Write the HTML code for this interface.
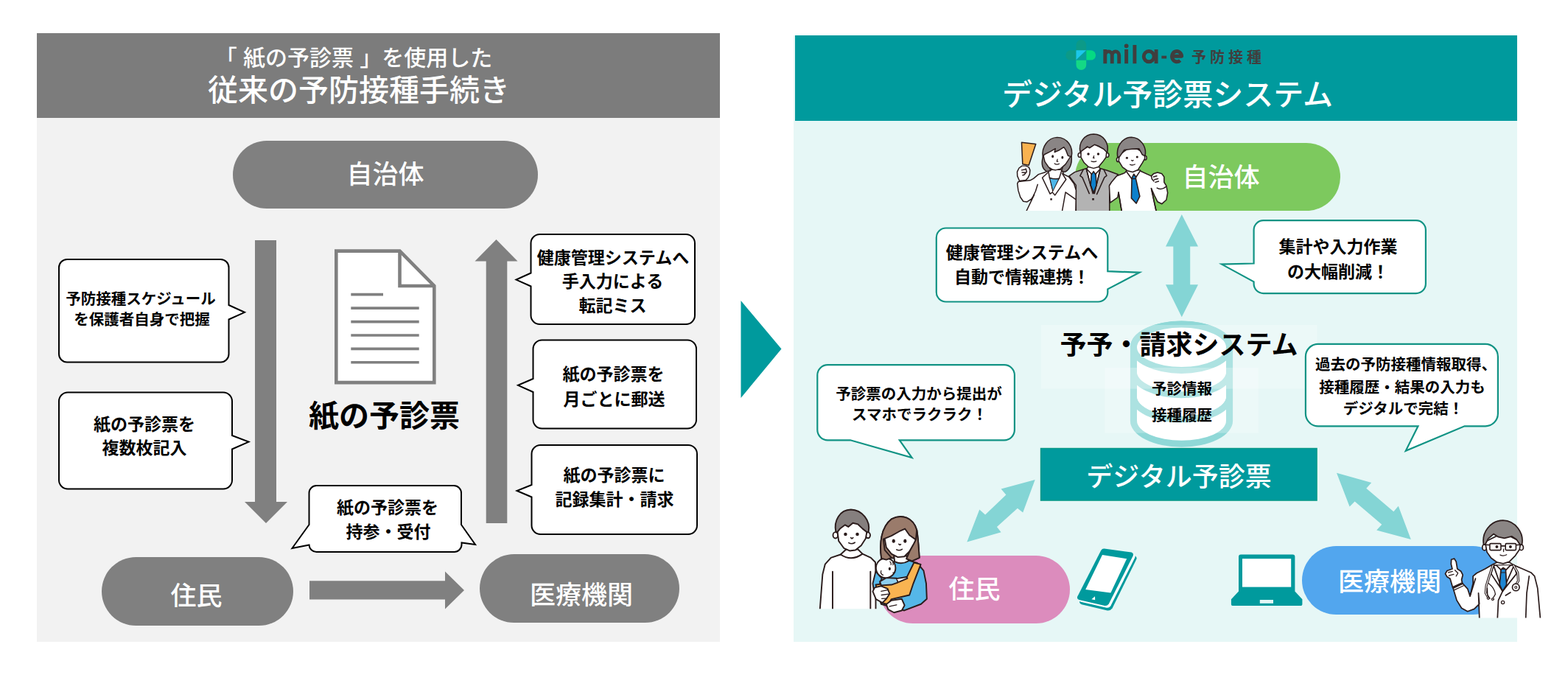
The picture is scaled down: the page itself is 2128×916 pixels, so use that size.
<!DOCTYPE html>
<html lang="ja"><head><meta charset="utf-8"><title>紙の予診票からデジタル予診票システムへ</title>
<style>
html,body{margin:0;padding:0;background:#fff}
body{width:2128px;height:916px;position:relative;overflow:hidden;font-family:"Liberation Sans","Noto Sans CJK JP",sans-serif}
svg{position:absolute;left:0;top:0;display:block}
svg text{font-family:"Liberation Sans","Noto Sans CJK JP",sans-serif;text-anchor:middle}
.t{position:absolute;white-space:nowrap;overflow:hidden;color:transparent;line-height:1.2;text-align:center}
</style></head><body>
<svg width="2128" height="916" viewBox="0 0 2128 916">
<rect x="50" y="45" width="927" height="115" fill="#7c7c7c"/>
<rect x="50" y="160" width="927" height="711" fill="#f2f2f2"/>
<rect x="316" y="191" width="414" height="92" rx="46" fill="#808080"/>
<rect x="138" y="756" width="260" height="93" rx="46.5" fill="#808080"/>
<rect x="651" y="752" width="271" height="93" rx="46.5" fill="#808080"/>
<path d="M346 326H375V681H390L361 710L332 681H346Z" fill="#808080"/>
<path d="M673.5 325L702.5 354.5H688.3V710H659.7V354.5H644.5Z" fill="#808080"/>
<path d="M420 788.2H604V775.5L630 801L604 826.5V813.6H420Z" fill="#808080"/>
<path d="M456.3 340.6H542.5L589.3 388V519.1H456.3Z" fill="#fff" stroke="#808080" stroke-width="4.6" stroke-linejoin="miter"/>
<path d="M542.5 340.6V388H589.3" fill="none" stroke="#808080" stroke-width="4.6"/>
<path d="M476.3 399.6H520M476.3 418.1H568.7M476.3 436.6H568.7M476.3 455H568.7M476.3 473.4H568.7M476.3 491.8H568.7" fill="none" stroke="#808080" stroke-width="3.6"/>
<path d="M91.0 352.0L299.5 352.0A11 11 0 0 1 310.5 363.0L310.5 414L332 423.8L310.5 433.5L310.5 480.5A11 11 0 0 1 299.5 491.5L91.0 491.5A11 11 0 0 1 80.0 480.5L80.0 363.0A11 11 0 0 1 91.0 352.0Z" fill="#fff" stroke="#000" stroke-width="2" stroke-linejoin="miter"/>
<path d="M92.0 532.5L303.0 532.5A12 12 0 0 1 315.0 544.5L315.0 591L337.5 599.6L315.0 609.5L315.0 651.5A12 12 0 0 1 303.0 663.5L92.0 663.5A12 12 0 0 1 80.0 651.5L80.0 544.5A12 12 0 0 1 92.0 532.5Z" fill="#fff" stroke="#000" stroke-width="2" stroke-linejoin="miter"/>
<path d="M732.5 318.0L931.0 318.0A12 12 0 0 1 943.0 330.0L943.0 428.0A12 12 0 0 1 931.0 440.0L732.5 440.0A12 12 0 0 1 720.5 428.0L720.5 388.5L700.5 379.6L720.5 370.5L720.5 330.0A12 12 0 0 1 732.5 318.0Z" fill="#fff" stroke="#000" stroke-width="2" stroke-linejoin="miter"/>
<path d="M735.5 461.5L933.0 461.5A12 12 0 0 1 945.0 473.5L945.0 569.5A12 12 0 0 1 933.0 581.5L735.5 581.5A12 12 0 0 1 723.5 569.5L723.5 532L703 522.8L723.5 514L723.5 473.5A12 12 0 0 1 735.5 461.5Z" fill="#fff" stroke="#000" stroke-width="2" stroke-linejoin="miter"/>
<path d="M733.5 604.0L934.0 604.0A12 12 0 0 1 946.0 616.0L946.0 713.0A12 12 0 0 1 934.0 725.0L733.5 725.0A12 12 0 0 1 721.5 713.0L721.5 674.5L701.5 666L721.5 658L721.5 616.0A12 12 0 0 1 733.5 604.0Z" fill="#fff" stroke="#000" stroke-width="2" stroke-linejoin="miter"/>
<path d="M429.5 659H616A10 10 0 0 1 626 669V712L645 739L626.5 736.5V739A10 10 0 0 1 616.5 749H429.5A10 10 0 0 1 419.5 739.5L396.5 744L419.5 712V669A10 10 0 0 1 429.5 659Z" fill="#fff" stroke="#000" stroke-width="2"/>
<path d="M1005.5 408V540L1060.5 473.5Z" fill="#009a9d"/>
<rect x="1077" y="48" width="982" height="823" fill="#e6f7f6"/>
<rect x="1079" y="48" width="980" height="116" fill="#009a9d"/>
<rect x="1459" y="194" width="360" height="92" rx="46" fill="#7dc95e"/>
<rect x="1193" y="754" width="259" height="92" rx="46" fill="#dc8cbd"/>
<rect x="1767" y="741" width="278.5" height="93" rx="46.5" fill="#52a6ee"/>
<path d="M1603.8 291L1626 334.6H1615.2V386.3H1626L1603.8 430.2L1582 386.3H1592.3V334.6H1582Z" fill="#84d5d5"/>
<path d="M1404.7 651L1388.2 695.5L1380.9 689.7L1352.9 715.1L1358.6 722.2L1312.3 735.6L1329.3 691.5L1337.1 698.6L1365.4 671.4L1358.6 663.5Z" fill="#84d5d5"/>
<path d="M1814 641.8L1861.2 654.9L1854.3 662.7L1891.3 694.2L1897.8 686.8L1914.8 732.1L1868.2 719.6L1875.3 711.7L1838.6 680.5L1831.6 687.6Z" fill="#84d5d5"/>
<g id="db">
<path d="M1533.9 471.2A69.6 35.7 0 0 1 1673.1 471.2V571.1A69.6 35.7 0 0 1 1533.9 571.1Z" fill="#8fd8d7"/>
<path d="M1543.0 537.8V571.1A60.5 26.7 0 0 0 1664.0 571.1V537.8Z" fill="#ffffff"/>
<path d="M1538.5 537.8A65 31.2 0 0 0 1668.5 537.8" fill="none" stroke="#8fd8d7" stroke-width="9"/>
<path d="M1543.0 504.5V537.8A60.5 26.7 0 0 0 1664.0 537.8V504.5Z" fill="#ffffff"/>
<path d="M1538.5 504.5A65 31.2 0 0 0 1668.5 504.5" fill="none" stroke="#8fd8d7" stroke-width="9"/>
<path d="M1543.0 471.2V504.5A60.5 26.7 0 0 0 1664.0 504.5V471.2Z" fill="#ffffff"/>
<ellipse cx="1603.5" cy="471.2" rx="65" ry="31.2" fill="#ffffff" stroke="#8fd8d7" stroke-width="9"/>
<rect x="1413" y="441" width="374.5" height="86.6" fill="#fff" fill-opacity=".26"/>
<rect x="1499.3" y="499" width="208.5" height="88.6" fill="#fff" fill-opacity=".26"/>
</g>
<rect x="1412.5" y="608.5" width="374.6" height="70.6" fill="#009a9d" stroke="#0a9a88" stroke-width="1.4"/>
<path d="M1283.8 309.5L1490.3000000000002 309.5A13 13 0 0 1 1503.3000000000002 322.5L1503.3000000000002 368.2L1546.5 369.8L1503.3000000000002 392.4L1503.3000000000002 396.5A13 13 0 0 1 1490.3000000000002 409.5L1283.8 409.5A13 13 0 0 1 1270.8 396.5L1270.8 322.5A13 13 0 0 1 1283.8 309.5Z" fill="#fff" stroke="#119384" stroke-width="2.2" stroke-linejoin="miter"/>
<path d="M1714.6 299.1L1921.9 299.1A13 13 0 0 1 1934.9 312.1L1934.9 385.09999999999997A13 13 0 0 1 1921.9 398.09999999999997L1714.6 398.09999999999997A13 13 0 0 1 1701.6 385.09999999999997L1701.6 382.4L1658 358.6L1701.6 357.5L1701.6 312.1A13 13 0 0 1 1714.6 299.1Z" fill="#fff" stroke="#119384" stroke-width="2.2" stroke-linejoin="miter"/>
<path d="M1123.3 495.1L1362.9 495.1A14 14 0 0 1 1376.9 509.1L1376.9 583.3A14 14 0 0 1 1362.9 597.3L1220.8 597.3L1237.6 621L1154 597.3L1123.3 597.3A14 14 0 0 1 1109.3 583.3L1109.3 509.1A14 14 0 0 1 1123.3 495.1Z" fill="#fff" stroke="#119384" stroke-width="2.2" stroke-linejoin="miter"/>
<path d="M1788.8999999999999 466.90000000000003L2015.9 466.90000000000003A17 17 0 0 1 2032.9 483.90000000000003L2032.9 561.3A17 17 0 0 1 2015.9 578.3L1987.6 578.3L1907.8 611.8L1924.5 578.3L1788.8999999999999 578.3A17 17 0 0 1 1771.8999999999999 561.3L1771.8999999999999 483.90000000000003A17 17 0 0 1 1788.8999999999999 466.90000000000003Z" fill="#fff" stroke="#119384" stroke-width="2.2" stroke-linejoin="miter"/>
<g id="logo">
<path d="M1460.5 68.2V60.9A6.85 6.85 0 0 1 1474.2 60.9V68.2Z" fill="#0c9a88"/>
<path d="M1460.5 68.2V81.6H1453A6.7 6.7 0 0 1 1453 68.2Z" fill="#0c9a88"/>
<path d="M1474.2 68.2H1480.4A6.7 6.7 0 0 1 1480.4 81.6H1474.2Z" fill="#05d983"/>
<path d="M1460.5 81.6H1474.2V88.2A6.85 6.85 0 0 1 1460.5 88.2Z" fill="#14d885"/>
<path d="M1460.5 68.2H1474.2L1460.5 81.6Z" fill="#1cc7ea"/>
<path d="M1474.2 68.2V81.6H1460.5Z" fill="#089f9a"/>
<g fill="none" stroke="#403e3e" stroke-width="4.9" stroke-linejoin="round">
<path d="M1499.8 86.2V67.1M1499.8 75A4.73 5.4 0 0 1 1509.25 75V86.2M1509.25 75A4.73 5.4 0 0 1 1518.7 75V86.2"/>
<path d="M1528.65 67.1V86.2M1539.9 61V86.2"/>
<ellipse cx="1559.2" cy="76.65" rx="6.95" ry="7.1"/>
<path d="M1569.1 67.1V86.2"/>
<path d="M1590.6 76.3H1603.7A6.6 7.1 0 1 0 1601.6 81.9"/>
</g>
<circle cx="1528.65" cy="62.3" r="2.9" fill="#403e3e"/>
<path d="M1576.4 77.6H1583.2" stroke="#403e3e" stroke-width="3.8" fill="none"/>
</g>

<g id="laptop">
<path d="M1684 752.6H1754.4A3 3 0 0 1 1757.4 755.6V802.4L1767.4 813.3V820.2A1.8 1.8 0 0 1 1765.6 822H1672.7A1.8 1.8 0 0 1 1670.9 820.2V813.3L1681 802.4V755.6A3 3 0 0 1 1684 752.6Z" fill="#009a9d"/>
<rect x="1686" y="758.2" width="66.2" height="38.4" fill="#fff"/>
<rect x="1709.8" y="814" width="18.2" height="4.8" fill="#e3f6f5"/>
</g>

<g id="phone">
<path d="M1502.5 749L1540 754.2Q1543.8 755.8 1542 759.6L1509.5 825.5Q1507 829 1502.8 828.4L1468 820.3Q1464.3 818.8 1465.5 815.8Z" fill="#009a9d"/>
<path d="M1498.6 744.6L1535.6 749.4Q1539 750.8 1537.6 754.4L1504.8 819.6Q1502.6 822.6 1499.2 822L1464.4 814Q1460.8 812.6 1462.4 809.2L1494.2 747Q1495.8 744.4 1498.6 744.6Z" fill="#fff" transform="translate(2.5 2.7)"/>
<path d="M1498.6 744.6L1535.6 749.4Q1539 750.8 1537.6 754.4L1504.8 819.6Q1502.6 822.6 1499.2 822L1464.4 814Q1460.8 812.6 1462.4 809.2L1494.2 747Q1495.8 744.4 1498.6 744.6Z" fill="#009a9d"/>
<path d="M1496 753L1529.2 758.2L1507.4 804.4L1473.2 800Z" fill="#fff"/>
<path d="M1481.4 813.2L1486 809.2L1486.2 814.2Z" fill="#fff"/>
</g>

<clipPath id="cpStaff"><rect x="1370" y="170" width="260" height="116"/></clipPath>
<g id="staff" clip-path="url(#cpStaff)" stroke="#2b1c1c" stroke-linejoin="round" stroke-linecap="round">
<!-- middle man (behind) -->
<g transform="translate(1445 178) scale(.12228)" stroke-width="12.5">
<path d="M125 940V600L48 497L110 455L235 415H400L470 435L592 480L497 600V940Z" fill="#b3b3b3"/>
<path d="M262 392L240 420L285 600L320 690L350 600L395 420L378 392Z" fill="#fff"/>
<path d="M297 447H343L352 600L320 684L288 600Z" fill="#0c80cc"/>
<path d="M242 418L300 478L320 447L340 478L396 418" fill="#fff"/>
<path d="M205 428L170 495L195 512L272 692M240 420L312 692M435 430L466 493L441 512L356 700M395 420L330 692" fill="none"/>
<path d="M304 744H326V766H304Z" fill="#2b1c1c" stroke="none"/>
<path d="M168 265m-20 0a20 24 0 1 0 40 0a20 24 0 1 0 -40 0M470 265m-20 0a20 24 0 1 0 40 0a20 24 0 1 0 -40 0" fill="#fff"/>
<path d="M180 215L180 290L215 350L265 397L320 412L375 397L422 340L458 290L466 215L320 140Z" fill="#fff"/>
<path d="M172 232C150 130 215 35 320 33C430 35 495 130 472 240L432 198L380 168L330 150L275 186L250 170L215 200Z" fill="#8a8585"/>
<circle cx="262" cy="253" r="14" fill="#2b1c1c" stroke="none"/><circle cx="372" cy="253" r="14" fill="#2b1c1c" stroke="none"/>
<path d="M324 275L316 298H328M295 334Q322 344 350 334" fill="none" stroke-width="11"/>
</g>
<!-- woman (left) -->
<g transform="translate(1375 185) scale(.11465)" stroke-width="13">
<path d="M100 72L268 92L185 342L112 330Z" fill="#f9b250"/>
<path d="M75 528L50 470L48 420L70 375L105 350H150L185 365L200 400L195 450L175 492L150 518Z" fill="#fff"/>
<path d="M100 400L140 393M105 428L150 430M150 383L160 420L130 455L113 460" fill="none"/>
<path d="M140 920L250 690L215 742L165 776L120 770L85 720L60 640L50 560L62 536L200 522L240 500L300 450L380 425L415 395H575L600 450L660 480L720 560L745 640L740 930Z" fill="#fff"/>
<path d="M290 570L265 650L240 702M620 662L572 930M620 662L738 745" fill="none"/>
<path d="M430 490Q490 512 545 500L470 657Z" fill="#4db6e9"/>
<path d="M410 430L345 490L437 682L466 662M580 440L626 510L495 697L466 664" fill="#fff"/>
<path d="M415 398L430 490M575 400L545 500" fill="none"/>
<path d="M439 734H461V756H439Z" fill="#2b1c1c" stroke="none"/>
<path d="M352 245C330 330 350 390 400 417L445 405L430 370M690 240C700 330 665 400 610 422L572 410L585 370" fill="#8a8585"/>
<path d="M355 215L375 300L420 365L470 395L500 400L560 385L620 330L660 270L686 230L600 110L480 130Z" fill="#fff"/>
<path d="M352 248C330 120 420 15 520 12C640 15 715 120 690 242L650 230L622 160L600 128L540 166L490 187L500 145L440 180L368 216Z" fill="#8a8585"/>
<ellipse cx="468" cy="238" rx="13" ry="17" fill="#2b1c1c" stroke="none"/><ellipse cx="583" cy="250" rx="13" ry="17" fill="#2b1c1c" stroke="none"/>
<path d="M524 272L517 298H530M490 322Q515 342 545 325" fill="none" stroke-width="11"/>
</g>
<!-- right man -->
<g transform="translate(1500 180) scale(.1201)" stroke-width="13">
<path d="M194 940L150 675L140 732L55 792L45 600L70 560L130 490L220 455L245 425H395L400 435L520 490L545 465L590 450L640 465L665 500V560L690 600L705 680L690 760L640 805L590 780L560 720L520 630L587 940Z" fill="#fff"/>
<path d="M585 625Q640 655 686 610M545 500L582 489M555 531L596 520M566 561L602 550M520 490L528 525L548 548" fill="none"/>
<path d="M150 675L194 940M520 630L587 940" fill="none"/>
<path d="M322 466L346 500L345 520L390 720L350 800L295 740L300 520L299 500Z" fill="#0c80cc"/>
<path d="M300 520H345" fill="none"/>
<path d="M236 435L298 520L323 468L348 502L396 430" fill="#fff"/>
<path d="M145 305m-17 0a17 24 0 1 0 34 0a17 24 0 1 0 -34 0M452 285m-16 0a16 22 0 1 0 32 0a16 22 0 1 0 -32 0" fill="#fff"/>
<path d="M160 250L152 320L195 390L250 430L310 445L370 420L420 340L448 290L440 230L300 150Z" fill="#fff"/>
<path d="M140 275C120 160 190 55 295 52C400 55 470 160 450 262L420 250L382 182L300 186L215 195L162 272Z" fill="#8a8585"/>
<circle cx="245" cy="285" r="13" fill="#2b1c1c" stroke="none"/><circle cx="360" cy="275" r="13" fill="#2b1c1c" stroke="none"/>
<path d="M296 312Q305 326 316 312M280 360Q305 374 335 358" fill="none" stroke-width="11"/>
</g>
</g>

<clipPath id="cpFamL"><rect x="0" y="0" width="520" height="838"/></clipPath>
<g id="family" stroke="#2b1c1c" stroke-linejoin="round" stroke-linecap="round" stroke-width="11" transform="translate(1105 680) scale(.17467)">
<!-- father -->
<g clip-path="url(#cpFamL)">
<path d="M40 900L65 570L85 490L130 440L205 415L248 375H340L375 410L440 440L475 475L478 560V900Z" fill="#fff"/>
<path d="M205 415Q290 472 375 410" fill="none"/>
<path d="M143 548V900M437 548V900" fill="none"/>
<path d="M165 265m-19 0a19 24 0 1 0 38 0a19 24 0 1 0 -38 0M418 265m-17 0a17 23 0 1 0 34 0a17 23 0 1 0 -34 0" fill="#fff"/>
<path d="M178 215L190 310L230 365L275 386L320 381L365 345L400 290L413 215L290 150Z" fill="#fff"/>
<path d="M168 240C150 150 200 68 285 66C370 68 440 150 422 240L408 240L375 214L340 180L300 170L265 200L240 185L200 215L182 238Z" fill="#857f7e"/>
<circle cx="243" cy="258" r="13" fill="#2b1c1c" stroke="none"/><circle cx="335" cy="258" r="13" fill="#2b1c1c" stroke="none"/>
<path d="M285 284Q292 298 302 284M268 324Q292 338 316 322" fill="none" stroke-width="9.5"/>
</g>
<!-- mother -->
<path d="M522 445C505 330 520 200 600 140C680 95 770 130 797 225C810 300 812 380 817 440L760 466L712 450L600 442L560 456Z" fill="#9a7b6b"/>
<path d="M620 420L625 470L600 520L500 575L475 660L520 800L700 850L830 800L875 760L870 640L850 540L800 480L735 462L715 425Z" fill="#55b7e8"/>
<path d="M625 470Q680 497 735 464L715 425H620Z" fill="#fff"/>
<path d="M478 545L525 600L500 668L462 690L455 640Z" fill="#55b7e8"/>
<path d="M775 478L828 492L770 640L740 730L600 762L575 802L520 790L478 650L560 640L640 612L720 590Z" fill="#f9b451"/>
<path d="M510 625L560 596L640 600L652 632L600 650L520 655Z" fill="#8ecfef"/>
<path d="M640 602L718 590L724 600L660 628" fill="#fff"/>
<circle cx="556" cy="520" r="76" fill="#fff"/>
<path d="M588 470Q600 480 596 495M610 478Q616 486 612 496" fill="none" stroke-width="7"/>
<ellipse cx="586" cy="526" rx="9" ry="12" fill="#2b1c1c" stroke="none"/>
<path d="M612 556Q622 562 628 552M520 540Q512 565 535 575" fill="none" stroke-width="7"/>
<path d="M455 702L470 672L520 660L570 680L586 720L560 760L530 790L480 762Z" fill="#fff"/>
<path d="M520 700L570 690M522 730L578 722M525 758L560 756" fill="none" stroke-width="7.5"/>
<path d="M560 802L600 772L680 760L702 810L680 850L620 866L575 842Z" fill="#fff"/>
<path d="M585 818L640 806" fill="none" stroke-width="7.5"/>
<path d="M540 250L560 360L600 410L650 436L700 431L740 390L775 330L790 300L705 200Z" fill="#fff"/>
<path d="M522 445C505 330 520 200 600 140C680 95 770 130 797 225L800 300L790 300L740 265L705 215L660 236L600 270L537 296L548 380L600 440L560 456Z" fill="#9a7b6b"/>
<path d="M797 225C810 300 812 380 817 440L760 466L716 448L742 390L775 330L790 300Z" fill="#9a7b6b"/>
<ellipse cx="617" cy="310" rx="12" ry="15" fill="#2b1c1c" stroke="none"/><ellipse cx="706" cy="310" rx="12" ry="15" fill="#2b1c1c" stroke="none"/>
<path d="M658 334Q664 346 672 336M640 377Q660 389 683 374" fill="none" stroke-width="9.5"/>
</g>

<clipPath id="cpDoc"><rect x="0" y="0" width="916" height="846"/></clipPath>
<g id="doctor" stroke="#2b1c1c" stroke-linejoin="round" stroke-linecap="round" stroke-width="10.5" transform="translate(1950 700) scale(.16375)">
<g clip-path="url(#cpDoc)">
<!-- coat -->
<path d="M355 900L345 640L352 730L310 772L255 792L205 765L165 700L135 600L215 562L255 605L275 665L300 560L300 500L330 475L400 440L460 405L500 385H600L640 410L700 435L780 470L810 500L835 600L862 900Z" fill="#fff"/>
<path d="M320 520L275 665M765 500L745 640L735 900" fill="none"/><path d="M142 616L222 578" fill="none" stroke-width="7"/>
<!-- shirt + tie -->
<path d="M470 410L545 625L640 410Z" fill="#fff"/>
<path d="M532 440H570L578 570L545 625L520 570Z" fill="#1e86d2"/>
<path d="M530 470H572" fill="none" stroke-width="7"/>
<path d="M495 412L530 447L550 430L575 447L610 410" fill="#fff"/>
<path d="M470 410L450 480L545 625L660 480L640 410M545 625L510 700L500 900" fill="none"/>
<path d="M570 660L610 635" fill="none"/>
<circle cx="547" cy="718" r="13" fill="#fff" stroke-width="8"/>
<!-- stethoscope -->
<path d="M465 410L435 500L410 580L405 640L428 680M635 410L670 470L675 540L660 565" fill="none" stroke-width="20"/>
<path d="M465 410L435 500L410 580L405 640L428 680M635 410L670 470L675 540L660 565" fill="none" stroke="#fff" stroke-width="7"/>
<path d="M430 560Q480 600 485 650L462 688M418 600L420 660L440 685" fill="none" stroke-width="8"/>
<circle cx="655" cy="592" r="29" fill="#fff"/><circle cx="655" cy="592" r="9" fill="#fff" stroke-width="7"/>
<circle cx="426" cy="683" r="10" fill="#9b9696" stroke-width="6"/><circle cx="463" cy="691" r="10" fill="#9b9696" stroke-width="6"/>
<!-- hand -->
<path d="M132 596L110 520L85 505L70 480L85 455L128 440L118 400L120 362L145 355L160 380L170 440L200 460L215 490L205 530L212 560Z" fill="#fff"/>
<path d="M95 470L130 460M100 496L140 485M150 450L175 475L160 500" fill="none" stroke-width="8"/>
<path d="M131 590L211 553" fill="none" stroke-width="7"/>
<!-- head -->
<path d="M395 262m-18 0a18 24 0 1 0 36 0a18 24 0 1 0 -36 0M700 262m-17 0a17 23 0 1 0 34 0a17 23 0 1 0 -34 0" fill="#fff"/>
<path d="M400 215L415 300L450 350L500 386L550 396L600 381L650 330L685 280L695 215L550 140Z" fill="#fff"/>
<path d="M388 238C370 140 440 40 548 37C650 40 725 140 705 238L690 240L660 195L620 170L560 185L510 175L470 150L425 190L402 236Z" fill="#8b8685"/>
<path d="M447 230H523Q531 230 531 238V277Q531 285 523 285H447Q439 285 439 277V238Q439 230 447 230ZM577 230H648Q656 230 656 238V277Q656 285 648 285H577Q569 285 569 277V238Q569 230 577 230ZM531 250H569M405 240L439 242M656 242L692 240" fill="none" stroke-width="10"/>
<circle cx="497" cy="256" r="12" fill="#2b1c1c" stroke="none"/><circle cx="610" cy="256" r="12" fill="#2b1c1c" stroke="none"/>
<path d="M553 275V296M525 324Q550 337 578 322" fill="none" stroke-width="8"/>
</g>
</g>

<text x="480" y="88.6" font-size="30" font-weight="500" fill="#fff" xml:space="preserve">「 紙の予診票 」を使用した</text>
<text x="487" y="137.4" font-size="41" font-weight="500" fill="#fff">従来の予防接種手続き</text>
<text x="523" y="249" font-size="35" font-weight="500" fill="#fff">自治体</text>
<text x="266.5" y="820.9" font-size="35" font-weight="500" fill="#fff">住民</text>
<text x="789" y="820.3" font-size="35" font-weight="500" fill="#fff">医療機関</text>
<text x="521.5" y="579.2" font-size="41" font-weight="700" fill="#000">紙の予診票</text>
<text x="191" y="412.6" font-size="20.5" font-weight="600" fill="#000">予防接種スケジュール</text>
<text x="192.5" y="441.3" font-size="20.5" font-weight="600" fill="#000">を保護者自身で把握</text>
<text x="196" y="583.7" font-size="23" font-weight="600" fill="#000">紙の予診票を</text>
<text x="196" y="615.7" font-size="23" font-weight="600" fill="#000">複数枚記入</text>
<text x="526" y="696.7" font-size="23" font-weight="600" fill="#000">紙の予診票を</text>
<text x="527" y="729.7" font-size="23" font-weight="600" fill="#000">持参・受付</text>
<text x="832" y="357.8" font-size="23" font-weight="600" fill="#000">健康管理システムへ</text>
<text x="831.5" y="389.9" font-size="23" font-weight="600" fill="#000">手入力による</text>
<text x="831.5" y="423.3" font-size="23" font-weight="600" fill="#000">転記ミス</text>
<text x="832.5" y="516.3" font-size="23" font-weight="600" fill="#000">紙の予診票を</text>
<text x="833.5" y="550.2" font-size="23" font-weight="600" fill="#000">月ごとに郵送</text>
<text x="833.5" y="653" font-size="23" font-weight="600" fill="#000">紙の予診票に</text>
<text x="834" y="685.7" font-size="23" font-weight="600" fill="#000">記録集計・請求</text>
<text x="1584.5" y="143.3" font-size="41" font-weight="500" fill="#fff">デジタル予診票システム</text>
<text x="1617" y="84.8" font-size="20" font-weight="700" fill="#403e3e" letter-spacing="5" style="text-anchor:start">予防接種</text>
<text x="1657" y="253" font-size="35" font-weight="500" fill="#fff">自治体</text>
<text x="1322.5" y="812.1" font-size="35" font-weight="500" fill="#fff">住民</text>
<text x="1886" y="801.8" font-size="35" font-weight="500" fill="#fff">医療機関</text>
<text x="1600" y="660.1" font-size="36" font-weight="500" fill="#fff">デジタル予診票</text>
<text x="1600" y="480.5" font-size="36" font-weight="700" fill="#000">予予・請求システム</text>
<text x="1604" y="535.4" font-size="20.5" font-weight="600" fill="#000">予診情報</text>
<text x="1604" y="571.4" font-size="20.5" font-weight="600" fill="#000">接種履歴</text>
<text x="1387" y="350.8" font-size="23" font-weight="600" fill="#000">健康管理システムへ</text>
<text x="1387" y="383.5" font-size="23" font-weight="600" fill="#000">自動で情報連携！</text>
<text x="1816" y="343.3" font-size="23" font-weight="600" fill="#000">集計や入力作業</text>
<text x="1816" y="376.7" font-size="23" font-weight="600" fill="#000">の大幅削減！</text>
<text x="1247" y="541.5" font-size="20.5" font-weight="600" fill="#000">予診票の入力から提出が</text>
<text x="1248" y="570.1" font-size="20.5" font-weight="600" fill="#000">スマホでラクラク！</text>
<text x="1908" y="502.2" font-size="20.5" font-weight="600" fill="#000">過去の予防接種情報取得、</text>
<text x="1903" y="532.7" font-size="20.5" font-weight="600" fill="#000">接種履歴・結果の入力も</text>
<text x="1904.5" y="562.3" font-size="20.5" font-weight="600" fill="#000">デジタルで完結！</text>
</svg>
</body></html>
